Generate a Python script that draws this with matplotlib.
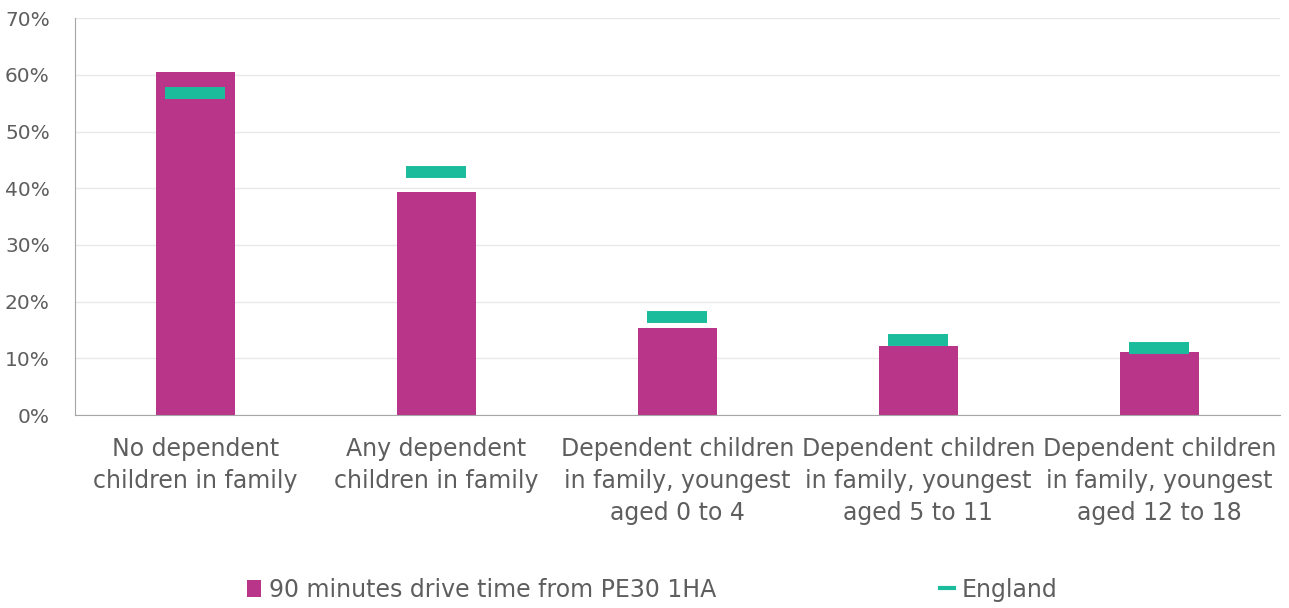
import matplotlib
matplotlib.use("Agg")
import matplotlib.pyplot as plt
from matplotlib.lines import Line2D
from matplotlib.patches import Patch
import numpy as np

categories = [
    "No dependent\nchildren in family",
    "Any dependent\nchildren in family",
    "Dependent children\nin family, youngest\naged 0 to 4",
    "Dependent children\nin family, youngest\naged 5 to 11",
    "Dependent children\nin family, youngest\naged 12 to 18",
]
area_values = [60.5, 39.3, 15.4, 12.2, 11.2]
england_values = [56.8, 42.9, 17.3, 13.3, 11.9]
yticks = [0, 10, 20, 30, 40, 50, 60, 70]
series_names = ["90 minutes drive time from PE30 1HA", "England"]

bar_color = "#B8358A"
eng_color = "#1ABC9C"
text_color = "#5E5E5E"

plt.rcParams["font.family"] = ["DejaVu Sans"]

fig = plt.figure(figsize=(12.89, 6.08), dpi=100)
ax = fig.add_axes([0.058, 0.3174, 0.935, 0.6526])

x = np.arange(len(categories))
ax.bar(x, area_values, width=0.33, color=bar_color, zorder=2)
ax.plot(x, england_values, linestyle="none", marker="_", markersize=43,
        markeredgewidth=8.6, color=eng_color, zorder=3)

ax.set_xlim(-0.5, len(categories) - 0.5)
ax.set_ylim(0, 70)
ax.set_yticks(yticks)
ax.set_yticklabels([f"{v}%" for v in yticks], fontsize=14.5)
ax.set_xticks(x)
ax.set_xticklabels(categories, linespacing=1.42, fontsize=17)
ax.tick_params(axis="both", length=0, colors=text_color)
ax.tick_params(axis="x", pad=16)
ax.tick_params(axis="y", pad=18)

ax.grid(axis="y", color="#E8E8E8", linewidth=1, zorder=0)
ax.set_axisbelow(True)
for side in ["top", "right"]:
    ax.spines[side].set_visible(False)
ax.spines["left"].set_color("#A6A6A6")
ax.spines["bottom"].set_color("#A6A6A6")

handles = [
    Patch(facecolor=bar_color, edgecolor="none"),
    Line2D([], [], color=eng_color, linewidth=3),
]
fig.legend(handles, series_names, loc="center", bbox_to_anchor=(0.506, 0.03),
           ncol=2, frameon=False, fontsize=17, labelcolor=text_color,
           handlelength=0.6, handletextpad=0.3, columnspacing=9.5)

fig.savefig("out.png", dpi=100)
